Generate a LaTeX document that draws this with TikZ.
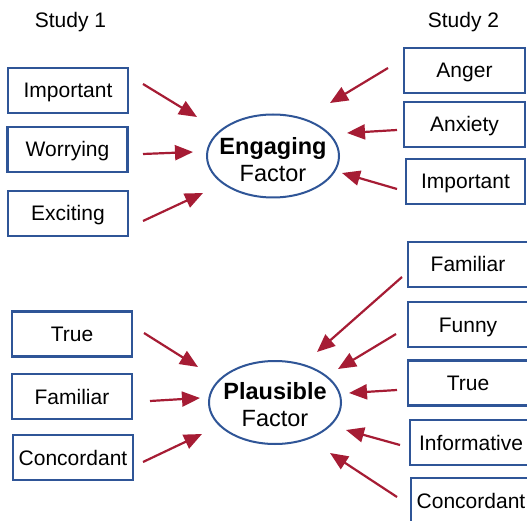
\documentclass[tikz,border=0pt]{standalone}
\usepackage{fontspec}
\setmainfont{Liberation Sans}
\usetikzlibrary{arrows.meta,shapes.geometric}
\definecolor{boxblue}{RGB}{47,85,151}
\definecolor{arrred}{RGB}{166,28,52}
\begin{document}
\begin{tikzpicture}[x=1pt,y=-1pt,
  box/.style={draw=boxblue,line width=2.2pt,minimum width=120pt,minimum height=45pt,inner sep=0pt,
    text height=15pt,text depth=0pt,font=\fontsize{21}{25}\selectfont},
  factor/.style={ellipse,draw=boxblue,line width=2pt,minimum width=132pt,minimum height=83pt,inner sep=0pt},
  ftext/.style={align=center,inner sep=0pt,font=\fontsize{23.5}{27}\selectfont},
  arr/.style={draw=arrred,line width=2.2pt,-{Triangle[length=18pt,width=15pt]}},
  study/.style={inner sep=0pt,text height=15pt,text depth=0pt,font=\fontsize{21}{25}\selectfont}]
\useasboundingbox (0,0) rectangle (527,521);
\clip (0,0) rectangle (527,521);
\fill[white] (0,0) rectangle (527,521);

% titles
\node[study] (st1) at (70.5,20.5) {Study 1};
\node[study] (st2) at (463.5,20.5) {Study 2};

% factors
\node[factor] (eng) at (273,156) {};
\node[ftext] (engt) at (273,159.5) {\textbf{Engaging}\\Factor};
\node[factor] (pla) at (275,402.5) {};
\node[ftext] (plat) at (275,405) {\textbf{Plausible}\\Factor};

% study 1, engaging
\node[box] (l1) at (68,90.5) {Important};
\node[box] (l2) at (67.5,149.5) {Worrying};
\node[box] (l3) at (68,213.5) {Exciting};
% study 2, engaging
\node[box,minimum width=121pt] (r1) at (464.5,70.5) {Anger};
\node[box,minimum width=121pt] (r2) at (464.5,124.5) {Anxiety};
\node[box,minimum width=119pt] (r3) at (465.5,181.5) {Important};
% study 1, plausible
\node[box] (l4) at (72,334) {True};
\node[box] (l5) at (72,396.5) {Familiar};
\node[box] (l6) at (73,457.5) {Concordant};
% study 2, plausible
\node[box] (r4) at (468,264.5) {Familiar};
\node[box] (r5) at (468,324.5) {Funny};
\node[box] (r6) at (468,383) {True};
\node[box,minimum width=122pt] (r7) at (471,442.5) {Informative};
\node[box] (r8) at (471,500.5) {Concordant};

% arrow ends
\coordinate (a1s) at (143,84);  \coordinate (a1e) at (197,117);
\coordinate (a2s) at (143,154); \coordinate (a2e) at (193,152);
\coordinate (a3s) at (143,221); \coordinate (a3e) at (203,193);
\coordinate (a4s) at (388,68);  \coordinate (a4e) at (330,103);
\coordinate (a5s) at (397,130); \coordinate (a5e) at (347,133);
\coordinate (a6s) at (397,189); \coordinate (a6e) at (342,173);
\coordinate (a7s) at (144,333); \coordinate (a7e) at (198,367);
\coordinate (a8s) at (150,401); \coordinate (a8e) at (200,398);
\coordinate (a9s) at (143,462); \coordinate (a9e) at (202,434);
\coordinate (b1s) at (402,277); \coordinate (b1e) at (317,352);
\coordinate (b2s) at (396,334); \coordinate (b2e) at (338,369);
\coordinate (b3s) at (397,390); \coordinate (b3e) at (349,393);
\coordinate (b4s) at (400,445); \coordinate (b4e) at (346,430);
\coordinate (b5s) at (397,497); \coordinate (b5e) at (330,453);

\foreach \a in {a1,a2,a3,a4,a5,a6,a7,a8,a9,b1,b2,b3,b4,b5}
  \draw[arr] (\a s) -- (\a e);
\end{tikzpicture}
\end{document}
